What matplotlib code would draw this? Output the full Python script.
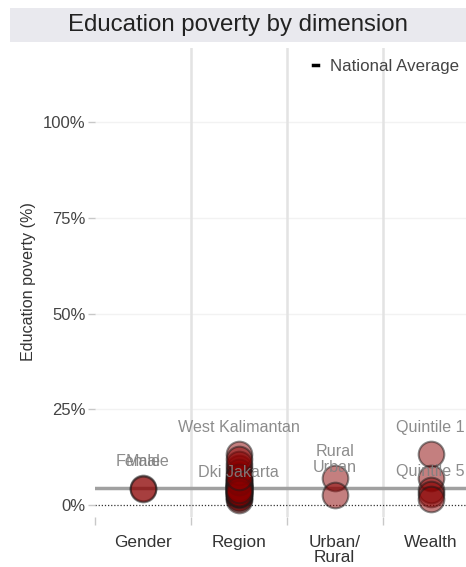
import matplotlib.pyplot as plt
from matplotlib.lines import Line2D

plt.rcParams['font.family'] = ['Liberation Sans', 'DejaVu Sans']

# dados
categorias = ['Gender', 'Region', 'Urban/\nRural', 'Wealth']

genero_nomes = ['Female', 'Male']
genero_vals = [4.4, 4.3]

regiao_nomes = ['Aceh', 'North Sumatra', 'West Sumatra', 'Riau', 'Jambi', 'South Sumatra',
                'Bengkulu', 'Lampung', 'Bangka Belitung', 'Riau Islands', 'Dki Jakarta',
                'West Java', 'Central Java', 'Di Yogyakarta', 'East Java', 'Banten', 'Bali',
                'West Nusa Tenggara', 'East Nusa Tenggara', 'West Kalimantan',
                'Central Kalimantan', 'South Kalimantan', 'East Kalimantan', 'North Kalimantan',
                'North Sulawesi', 'Central Sulawesi', 'South Sulawesi', 'Southeast Sulawesi',
                'Gorontalo', 'West Sulawesi', 'Maluku', 'North Maluku', 'West Papua', 'Papua']
regiao_vals = [3.5, 4.2, 4.8, 3.9, 4.6, 5.2, 3.8, 4.9, 5.6, 2.2, 1.4, 3.6, 4.7, 1.9, 5.1,
               3.3, 3.0, 7.8, 9.6, 13.2, 6.2, 5.4, 2.5, 4.4, 2.8, 6.5, 6.9, 5.9, 8.7, 10.8,
               3.1, 4.0, 7.2, 11.9]

local_nomes = ['Rural', 'Urban']
local_vals = [7.0, 2.6]

riqueza_nomes = ['Quintile 1', 'Quintile 2', 'Quintile 3', 'Quintile 4', 'Quintile 5']
riqueza_vals = [13.2, 7.0, 4.0, 2.8, 1.7]

media_nacional = 4.5

# rotulos mostrados em cada grupo
rotulados = ['Female', 'Male', 'West Kalimantan', 'Dki Jakarta', 'Rural', 'Urban',
             'Quintile 1', 'Quintile 5']

grupos = [(genero_nomes, genero_vals), (regiao_nomes, regiao_vals),
          (local_nomes, local_vals), (riqueza_nomes, riqueza_vals)]

fig = plt.figure(figsize=(4.66, 5.67), dpi=100)

# faixa do titulo
ax_t = fig.add_axes([10 / 466, 1 - 42 / 567, 456 / 466, 34 / 567])
ax_t.set_facecolor('#e9e9ee')
ax_t.set_xticks([])
ax_t.set_yticks([])
for s in ax_t.spines.values():
    s.set_visible(False)
ax_t.text(0.5, 0.5, 'Education poverty by dimension', ha='center', va='center',
          fontsize=17.3, color='#222222')

ax = fig.add_axes([95 / 466, 1 - 516.5 / 567, 371 / 466, 469 / 567])
for s in ax.spines.values():
    s.set_visible(False)

ax.set_xlim(-0.5, 3.37)
ax.set_ylim(-3, 119.5)

for y in [25, 50, 75, 100]:
    ax.axhline(y, color='#f2f2f2', lw=1, zorder=0)
for x in [0.5, 1.5, 2.5]:
    ax.axvline(x, color='#e3e3e3', lw=1.8, zorder=0)

ax.axhline(0, color='#333333', lw=0.9, linestyle=(0, (1, 1.5)), zorder=1)
ax.axhline(media_nacional, color='#a0a0a0', lw=2.5, zorder=2)

for i, (nomes, vals) in enumerate(grupos):
    ax.scatter([i] * len(vals), vals, s=340, color='#8b0000', alpha=0.5,
               edgecolor='#1a1a1a', linewidth=1.5, zorder=3)
    for n, v in zip(nomes, vals):
        if n in rotulados:
            ax.annotate(n, (i, v), xytext=(0, 19.5), textcoords='offset points',
                        ha='center', va='center', fontsize=11.6, color='#808080',
                        alpha=0.9, zorder=4)

ax.set_yticks([0, 25, 50, 75, 100])
ax.set_yticklabels(['0%', '25%', '50%', '75%', '100%'])
ax.tick_params(axis='y', length=5, width=1, color='#c8c8c8', labelcolor='#444444',
               labelsize=12, pad=2)

ax.set_xticks(range(4))
ax.set_xticklabels(categorias, linespacing=1.0)
ax.tick_params(axis='x', length=0, labelcolor='#333333', labelsize=12.4, pad=13)
ax.set_xticks([-0.5, 0.5, 1.5, 2.5], minor=True)
ax.tick_params(axis='x', which='minor', length=6, width=1, color='#c8c8c8', pad=3)

ax.set_ylabel('Education poverty (%)', fontsize=11.6, color='#333333', labelpad=5)

alca = Line2D([], [], color='black', lw=2.5)
ax.legend([alca], ['National Average'], loc='upper right', frameon=False,
          handlelength=0.3, handletextpad=0.7, fontsize=12.2, labelcolor='#444444',
          bbox_to_anchor=(1.0, 0.99), borderaxespad=0)

plt.savefig('out.png', dpi=100)
